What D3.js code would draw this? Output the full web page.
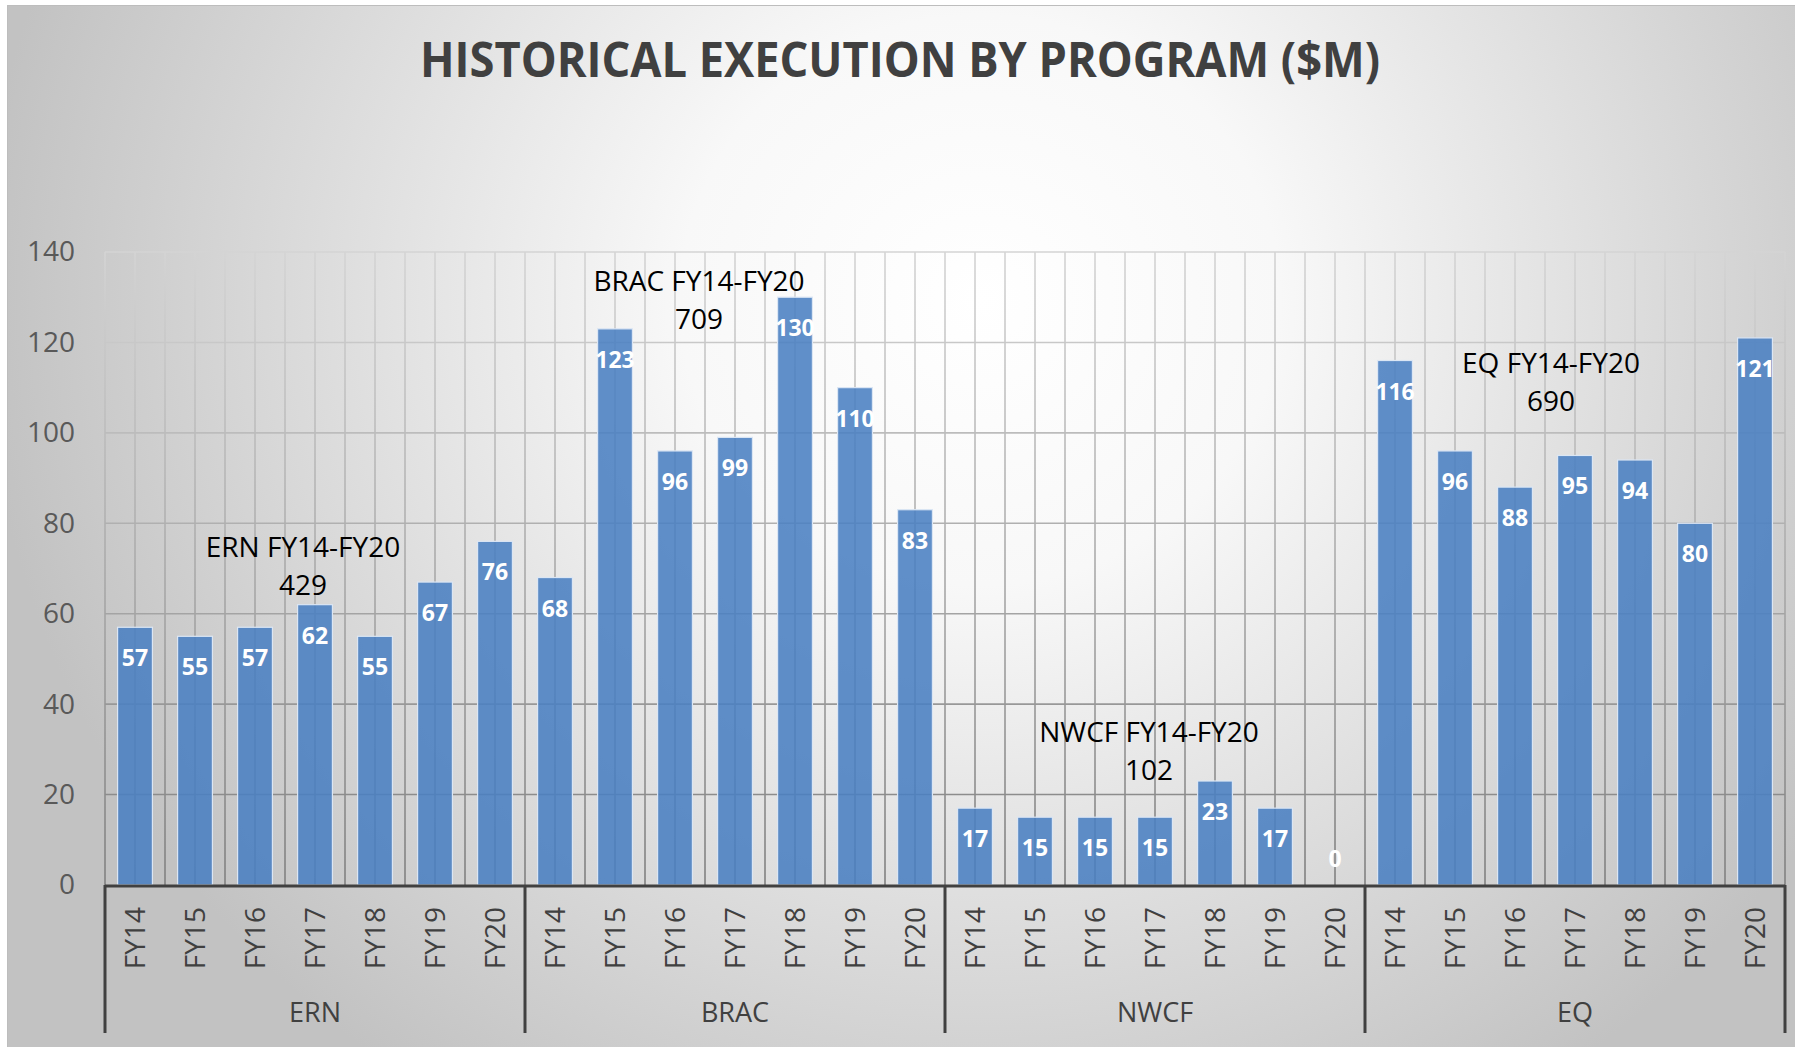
<!DOCTYPE html>
<html>
<head>
<meta charset="utf-8">
<script src="https://cdn.jsdelivr.net/npm/d3@7"></script>
<style>
  body { margin: 0; background: #fff; }
  svg { display: block; font-family: "Open Sans", sans-serif; }
</style>
</head>
<body>
<div id="chart"></div>
<script>
/* CONSTANTS AND GLOBALS */
const width = 1795,
  height = 1047,
  margin = { top: 252, bottom: 162, left: 105, right: 10 };

/* DATA */
const titleText = "HISTORICAL EXECUTION BY PROGRAM ($M)";
const programs = ["ERN", "BRAC", "NWCF", "EQ"];
const years = ["FY14", "FY15", "FY16", "FY17", "FY18", "FY19", "FY20"];
const ernValues = [57, 55, 57, 62, 55, 67, 76];
const bracValues = [68, 123, 96, 99, 130, 110, 83];
const nwcfValues = [17, 15, 15, 15, 23, 17, 0];
const eqValues = [116, 96, 88, 95, 94, 80, 121];
const yTicks = [0, 20, 40, 60, 80, 100, 120, 140];

// where the hand placed total boxes sit: slot along the group, value on the y axis
const noteSlot = { ERN: 3.3, BRAC: 2.9, NWCF: 3.4, EQ: 3.1 };
const noteLevel = { ERN: 72.5, BRAC: 131.3, NWCF: 31.6, EQ: 113.2 };

let svg;
let xScale;
let yScale;

const valuesByProgram = { ERN: ernValues, BRAC: bracValues, NWCF: nwcfValues, EQ: eqValues };

// flat table for the bars
const data = [];
programs.forEach(p => {
  years.forEach((y, i) => {
    data.push({ program: p, year: y, key: p + "|" + y, value: valuesByProgram[p][i] });
  });
});

init();

/* INITIALIZING FUNCTION */
function init() {
  xScale = d3
    .scaleBand()
    .domain(data.map(d => d.key))
    .range([margin.left, width - margin.right])
    .paddingInner(0.42)
    .paddingOuter(0.21);

  yScale = d3
    .scaleLinear()
    .domain([0, 140])
    .range([height - margin.bottom, margin.top]);

  svg = d3
    .select("#chart")
    .append("svg")
    .attr("width", width)
    .attr("height", height);

  const defs = svg.append("defs");

  // background: white in the upper middle, grey at the edges
  const bg = defs.append("radialGradient")
    .attr("id", "bg")
    .attr("gradientUnits", "userSpaceOnUse")
    .attr("cx", 980).attr("cy", 300).attr("r", 1000)
    .attr("gradientTransform", "translate(980,300) scale(1,0.95) translate(-980,-300)");
  bg.append("stop").attr("offset", 0).attr("stop-color", "#ffffff");
  bg.append("stop").attr("offset", 0.3).attr("stop-color", "#f8f8f8");
  bg.append("stop").attr("offset", 0.65).attr("stop-color", "#dddddd");
  bg.append("stop").attr("offset", 1).attr("stop-color", "#c2c2c2");

  // gridlines get darker towards the bottom
  const gg = defs.append("linearGradient")
    .attr("id", "gridGrad")
    .attr("gradientUnits", "userSpaceOnUse")
    .attr("x1", 0).attr("x2", 0)
    .attr("y1", yScale(140)).attr("y2", yScale(0));
  gg.append("stop").attr("offset", 0).attr("stop-color", "#d4d4d4");
  gg.append("stop").attr("offset", 1).attr("stop-color", "#808080");

  svg.append("rect")
    .attr("x", 7.5).attr("y", 5.5)
    .attr("width", width).attr("height", height)
    .attr("fill", "url(#bg)")
    .attr("stroke", "#bdbdbd");

  // title
  svg.append("text")
    .attr("x", 900)
    .attr("y", 77)
    .attr("text-anchor", "middle")
    .attr("font-size", 48)
    .attr("font-weight", 700)
    .attr("fill", "#404040")
    .attr("textLength", 960)
    .attr("lengthAdjust", "spacingAndGlyphs")
    .text(titleText);

  // + GRIDLINES
  const step = xScale.step();
  const half = (step - xScale.bandwidth()) / 2;
  const gridX = [];
  data.forEach(d => {
    gridX.push(xScale(d.key) - half);
    gridX.push(xScale(d.key) + xScale.bandwidth() / 2);
  });
  gridX.push(xScale(data[data.length - 1].key) + xScale.bandwidth() + half);

  const grid = svg.append("g").attr("class", "grid")
    .attr("stroke", "url(#gridGrad)")
    .attr("stroke-width", 1.6);

  grid.selectAll("line.v")
    .data(gridX)
    .join("line")
    .attr("class", "v")
    .attr("x1", d => d).attr("x2", d => d)
    .attr("y1", yScale(140)).attr("y2", yScale(0));

  grid.selectAll("line.h")
    .data(yTicks.filter(t => t > 0))
    .join("line")
    .attr("class", "h")
    .attr("x1", margin.left).attr("x2", width - margin.right)
    .attr("y1", d => yScale(d)).attr("y2", d => yScale(d));

  // + Y AXIS (labels only)
  const yAxis = d3.axisLeft(yScale).tickValues(yTicks).tickSize(0).tickPadding(0);
  svg.append("g")
    .attr("class", "axis y-axis")
    .attr("transform", `translate(${margin.left - 30},0)`)
    .call(yAxis)
    .call(g => g.select(".domain").remove())
    .call(g => g.selectAll("text")
      .attr("font-family", "Open Sans, sans-serif")
      .attr("font-size", 28)
      .attr("fill", "#595959"));

  draw();
}

/* DRAW FUNCTION */
function draw() {
  const bw = xScale.bandwidth();
  const step = xScale.step();
  const half = (step - bw) / 2;

  svg.append("g")
    .selectAll("rect.bar")
    .data(data)
    .join("rect")
    .attr("class", "bar")
    .attr("x", d => xScale(d.key))
    .attr("width", bw)
    .attr("y", d => yScale(d.value))
    .attr("height", d => yScale(0) - yScale(d.value))
    .attr("fill", "#4a7fc1")
    .attr("fill-opacity", 0.88)
    .attr("stroke", "#dbe6f4")
    .attr("stroke-width", d => d.value > 0 ? 1.2 : 0);

  // data labels, inside end
  svg.append("g")
    .selectAll("text.label")
    .data(data)
    .join("text")
    .attr("class", "label")
    .attr("x", d => xScale(d.key) + bw / 2)
    .attr("y", d => d.value > 0 ? yScale(d.value) + 39 : yScale(0) - 18)
    .attr("text-anchor", "middle")
    .attr("font-size", 23)
    .attr("font-weight", 700)
    .attr("fill", "#ffffff")
    .text(d => d.value);

  // x axis line
  svg.append("line")
    .attr("x1", margin.left).attr("x2", width - margin.right)
    .attr("y1", yScale(0) + 1).attr("y2", yScale(0) + 1)
    .attr("stroke", "#404040")
    .attr("stroke-width", 3);

  // year labels, rotated
  svg.append("g")
    .selectAll("text.year")
    .data(data)
    .join("text")
    .attr("class", "year")
    .attr("transform", d => `translate(${xScale(d.key) + bw / 2},${yScale(0) + 22}) rotate(-90)`)
    .attr("text-anchor", "end")
    .attr("dy", "0.35em")
    .attr("font-size", 28)
    .attr("fill", "#404040")
    .text(d => d.year);

  // group separators
  const groupStart = p => xScale(p + "|" + years[0]) - half;
  const groupEnd = p => xScale(p + "|" + years[years.length - 1]) + bw + half;
  const sepX = programs.map(groupStart).concat([groupEnd(programs[programs.length - 1])]);

  svg.append("g")
    .selectAll("line.sep")
    .data(sepX)
    .join("line")
    .attr("class", "sep")
    .attr("x1", d => d).attr("x2", d => d)
    .attr("y1", yScale(0)).attr("y2", yScale(0) + 148)
    .attr("stroke", "#404040")
    .attr("stroke-width", 3);

  svg.append("g")
    .selectAll("text.group")
    .data(programs)
    .join("text")
    .attr("class", "group")
    .attr("x", p => (groupStart(p) + groupEnd(p)) / 2)
    .attr("y", yScale(0) + 137)
    .attr("text-anchor", "middle")
    .attr("font-size", 27)
    .attr("fill", "#404040")
    .text(p => p);

  // totals text boxes
  const notes = svg.append("g")
    .selectAll("text.note")
    .data(programs)
    .join("text")
    .attr("class", "note")
    .attr("text-anchor", "middle")
    .attr("font-size", 28)
    .attr("fill", "#000");

  notes.append("tspan")
    .attr("x", p => groupStart(p) + noteSlot[p] * step)
    .attr("y", p => yScale(noteLevel[p]))
    .text(p => p + " FY14-FY20");
  notes.append("tspan")
    .attr("x", p => groupStart(p) + noteSlot[p] * step)
    .attr("dy", 38)
    .text(p => d3.sum(valuesByProgram[p]));
}
</script>
</body>
</html>
